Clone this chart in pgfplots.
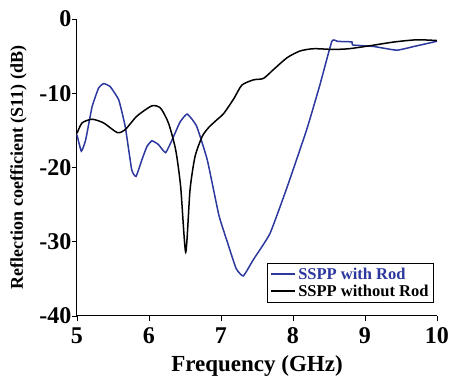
\documentclass[border=0pt]{standalone}
\usepackage{pgfplots}
\pgfplotsset{compat=1.18}
\usepackage{fontspec}
\setmainfont{Liberation Serif}
\definecolor{sblue}{RGB}{44,56,158}
\begin{document}
\begin{tikzpicture}[x=1pt,y=1pt]
\path[use as bounding box] (-77,-64) rectangle (373,316);
\begin{axis}[
  at={(0,0)}, anchor=south west,
  scale only axis, width=360pt, height=297pt,
  xmin=5, xmax=10, ymin=-40, ymax=0,
  xtick={5,6,...,10}, ytick={-40,-30,...,0},
  axis lines=left, axis line style={-, line width=1pt},
  tick align=outside, tick style={black, line width=0.8pt, major tick length=5pt},
  /pgf/number format/assume math mode=true,
  ticklabel style={font=\fontsize{24}{25}\selectfont\bfseries},
  xticklabel style={yshift=-3pt},
  yticklabel style={xshift=3pt},
  xlabel={Frequency (GHz)}, ylabel={Reflection coefficient (S11) (dB)},
  xlabel style={font=\fontsize{23}{25}\selectfont\bfseries, yshift=-5pt},
  ylabel style={font=\fontsize{18}{19}\selectfont\bfseries, yshift=6pt},
  legend style={at={(rel axis cs:0.99,0.045)}, anchor=south east, draw=black, line width=0.8pt,
    font=\fontsize{16.5}{18}\selectfont\bfseries, inner sep=2.5pt, row sep=0pt, cells={anchor=west}},
  legend image code/.code={\draw[#1, line width=1.8pt] (0cm,0cm) -- (0.85cm,0cm);},
  clip=false,
]
\addplot[sblue, line width=1.5pt, smooth, tension=0.25] coordinates {
(5.00,-15.6) (5.06,-17.8) (5.12,-16.3) (5.21,-11.8) (5.30,-9.3) (5.37,-8.7) (5.46,-9.1)
(5.58,-10.9) (5.67,-14.5) (5.76,-20.3) (5.82,-21.2) (5.90,-19.0) (5.97,-17.2) (6.04,-16.4)
(6.13,-16.9) (6.23,-18.0) (6.32,-16.3) (6.43,-13.9) (6.53,-12.8) (6.66,-14.4)
(6.81,-19.0) (6.97,-26.4) (7.08,-29.8) (7.21,-33.6) (7.31,-34.6) (7.45,-32.4)
(7.68,-28.9) (7.92,-22.6) (8.19,-14.9) (8.37,-9.0) (8.54,-3.0) (8.62,-3.02) (8.74,-3.05) (8.82,-3.1) (8.83,-3.5)
(9.12,-3.7) (9.44,-4.2) (9.68,-3.7) (10.00,-3.0)
};
\addlegendentry{\textcolor{sblue}{SSPP with Rod}}
\addplot[black, line width=1.5pt, smooth, tension=0.4] coordinates {
(5.00,-15.4) (5.07,-14.0) (5.21,-13.5) (5.37,-14.0) (5.56,-15.3) (5.67,-14.9)
(5.83,-13.1) (6.04,-11.7) (6.16,-12.0) (6.27,-14.0) (6.37,-17.6) (6.44,-22.6)
(6.51,-31.4) (6.57,-23.0) (6.64,-18.5) (6.74,-15.8) (6.83,-14.6) (6.94,-13.6)
(7.04,-12.7) (7.18,-10.7) (7.29,-8.9) (7.45,-8.2) (7.59,-8.0) (7.73,-6.8)
(7.92,-5.2) (8.10,-4.3) (8.29,-4.0) (8.56,-4.1) (8.78,-4.0) (9.07,-3.6)
(9.40,-3.1) (9.72,-2.8) (10.00,-2.9)
};
\addlegendentry{SSPP without Rod}
\end{axis}
\end{tikzpicture}
\end{document}
